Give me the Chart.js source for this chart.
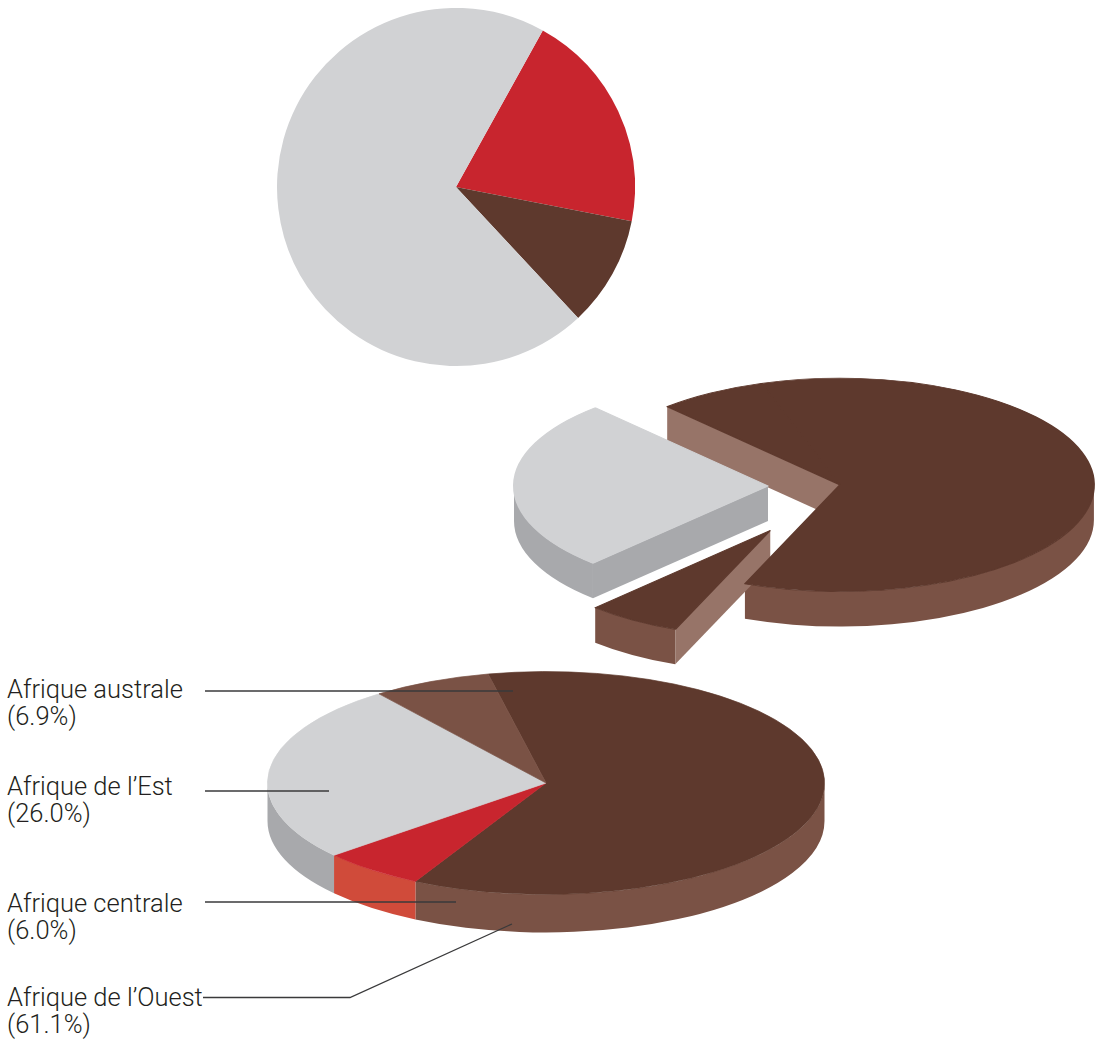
<!DOCTYPE html>
<html>
<head>
<meta charset="utf-8">
<script src="https://cdn.jsdelivr.net/npm/chart.js@4.4.1/dist/chart.umd.min.js"></script>
<style>
    body { margin: 0; background: #fff; }
    .page { position: relative; width: 1101px; height: 1039px; overflow: hidden; }
    .page canvas { position: absolute; }
    .label {
        position: absolute;
        left: 7px;
        font-family: Roboto, 'Liberation Sans', sans-serif;
        font-weight: 300;
        font-size: 25.5px;
        line-height: 27px;
        color: #231f20;
        white-space: nowrap;
    }
    #leaders { position: absolute; left: 0; top: 0; }
</style>
</head>
<body>
<div class="page">
    <canvas id="topPie" width="358" height="358" style="left:277px;top:8px"></canvas>
    <canvas id="splitPie" width="660" height="600" style="left:457px;top:186px"></canvas>
    <canvas id="regionPie" width="600" height="600" style="left:246px;top:483px"></canvas>

    <div class="label" style="top:676px">Afrique australe<br>(6.9%)</div>
    <div class="label" style="top:773px">Afrique de l’Est<br>(26.0%)</div>
    <div class="label" style="top:890px">Afrique centrale<br>(6.0%)</div>
    <div class="label" style="top:984px">Afrique de l’Ouest<br>(61.1%)</div>

    <svg id="leaders" width="1101" height="1039">
        <g fill="none" stroke="#3a3a3b" stroke-width="1.3">
            <path d="M205 691 H513"/>
            <path d="M205 791 H329"/>
            <path d="M205 902 H456"/>
            <path d="M203 997.5 H350 L512 924"/>
        </g>
    </svg>
</div>

<script>
// Regional breakdown (bottom and exploded pies)
const regions = ['Afrique de l’Ouest', 'Afrique centrale', 'Afrique de l’Est', 'Afrique australe'];
const shares = [61.1, 6.0, 26.0, 6.9];

// Flat pie at the top
const topSegments = ['Segment A', 'Segment B', 'Segment C'];
const topShares = [20, 10, 70];

const GREY = '#d1d2d4', GREY_SIDE = '#a8a9ac';
const BROWN = '#5e392d', BROWN_SIDE = '#7a5245', BROWN_FACE = '#977468';
const RED = '#c8252e', RED_SIDE = '#d04b3a';

// angle spans of an arc that face the viewer (lower half of the ellipse)
function frontSpans(s, e) {
    const out = [];
    for (let n = -2; n <= 2; n++) {
        const a = Math.max(s, n * 2 * Math.PI);
        const b = Math.min(e, n * 2 * Math.PI + Math.PI);
        if (b > a) out.push([a, b]);
    }
    return out;
}

function cutFace(ctx, cx, cy, r, k, d, a) {
    const px = cx + r * Math.cos(a), py = cy + r * k * Math.sin(a);
    ctx.beginPath();
    ctx.moveTo(cx, cy);
    ctx.lineTo(px, py);
    ctx.lineTo(px, py + d);
    ctx.lineTo(cx, cy + d);
    ctx.closePath();
    ctx.fill();
}

// Tilted, extruded pie: squash the arcs vertically, add side walls,
// and pull groups of slices apart along their middle direction
const pie3d = {
    id: 'pie3d',
    beforeDatasetsDraw(chart, args, opts) {
        const ctx = chart.ctx;
        const arcs = chart.getDatasetMeta(0).data;
        const k = opts.squash, depth = opts.depth;
        const groups = opts.groups || arcs.map(() => 0);
        const explode = opts.explode || [];
        const lift = opts.lift || [];
        const n = arcs.length;

        // direction of each group
        const dirs = {};
        arcs.forEach((arc, i) => {
            const g = groups[i];
            const mid = (arc.startAngle + arc.endAngle) / 2;
            const w = arc.endAngle - arc.startAngle;
            dirs[g] = dirs[g] || { x: 0, y: 0 };
            dirs[g].x += Math.cos(mid) * w;
            dirs[g].y += Math.sin(mid) * w;
        });

        const geo = arcs.map((arc, i) => {
            const g = groups[i];
            const a = Math.atan2(dirs[g].y, dirs[g].x);
            const e = explode[g] || 0;
            return {
                i, arc, g,
                cx: arc.x + Math.cos(a) * e,
                cy: arc.y + Math.sin(a) * e * k + (lift[g] || 0)
            };
        });

        // walls and cut faces, back to front; the top faces cover them
        [...geo].sort((a, b) => a.cy - b.cy).forEach(p => {
            const { arc, cx, cy, i } = p;
            const r = arc.outerRadius;
            ctx.fillStyle = opts.sides[i];
            frontSpans(arc.startAngle, arc.endAngle).forEach(([a, b]) => {
                ctx.beginPath();
                ctx.ellipse(cx, cy, r, r * k, 0, a, b, false);
                ctx.ellipse(cx, cy + depth, r, r * k, 0, b, a, true);
                ctx.closePath();
                ctx.fill();
            });
            const prev = geo[(i - 1 + n) % n], next = geo[(i + 1) % n];
            ctx.fillStyle = opts.faces[i];
            if (prev.g !== p.g && Math.cos(arc.startAngle) < 0) cutFace(ctx, cx, cy, r, k, depth, arc.startAngle);
            if (next.g !== p.g && Math.cos(arc.endAngle) > 0) cutFace(ctx, cx, cy, r, k, depth, arc.endAngle);
        });

        // top surfaces
        geo.forEach(p => {
            ctx.save();
            ctx.translate(p.cx, p.cy);
            ctx.scale(1, k);
            ctx.translate(-p.arc.x, -p.arc.y);
            p.arc.draw(ctx);
            ctx.restore();
        });
        return false;
    }
};

const baseOptions = {
    responsive: false,
    animation: false,
    events: [],
    plugins: { legend: { display: false }, tooltip: { enabled: false } }
};

// Flat pie
new Chart(document.getElementById('topPie'), {
    type: 'pie',
    data: {
        labels: topSegments,
        datasets: [{
            data: topShares,
            backgroundColor: [RED, BROWN, GREY],
            borderWidth: 0
        }]
    },
    options: { ...baseOptions, rotation: 29 }
});

// Exploded pie: west + southern stay together
const splitColors = [BROWN, BROWN, GREY, BROWN];
new Chart(document.getElementById('splitPie'), {
    type: 'pie',
    data: {
        labels: regions,
        datasets: [{
            data: shares,
            backgroundColor: splitColors,
            borderColor: splitColors,
            borderWidth: 2
        }]
    },
    options: {
        ...baseOptions,
        rotation: -18,
        layout: { padding: { left: 88, right: 62, top: 45, bottom: 45 } },
        plugins: {
            ...baseOptions.plugins,
            pie3d: {
                squash: 0.42,
                depth: 35,
                groups: [0, 1, 2, 0],
                explode: [40, 55, 32],
                lift: [0, 25, 0],
                sides: [BROWN_SIDE, BROWN_SIDE, GREY_SIDE, BROWN_SIDE],
                faces: [BROWN_FACE, BROWN_FACE, GREY_SIDE, BROWN_FACE]
            }
        }
    },
    plugins: [pie3d]
});

// Labelled regional pie
const regionColors = [BROWN, RED, GREY, BROWN_SIDE];
new Chart(document.getElementById('regionPie'), {
    type: 'pie',
    data: {
        labels: regions,
        datasets: [{
            data: shares,
            backgroundColor: regionColors,
            borderColor: regionColors,
            borderWidth: 1
        }]
    },
    options: {
        ...baseOptions,
        rotation: -12,
        layout: { padding: 21 },
        plugins: {
            ...baseOptions.plugins,
            pie3d: {
                squash: 0.4,
                depth: 38,
                sides: [BROWN_SIDE, RED_SIDE, GREY_SIDE, BROWN_SIDE],
                faces: [BROWN_FACE, RED_SIDE, GREY_SIDE, BROWN_FACE]
            }
        }
    },
    plugins: [pie3d]
});
</script>
</body>
</html>
